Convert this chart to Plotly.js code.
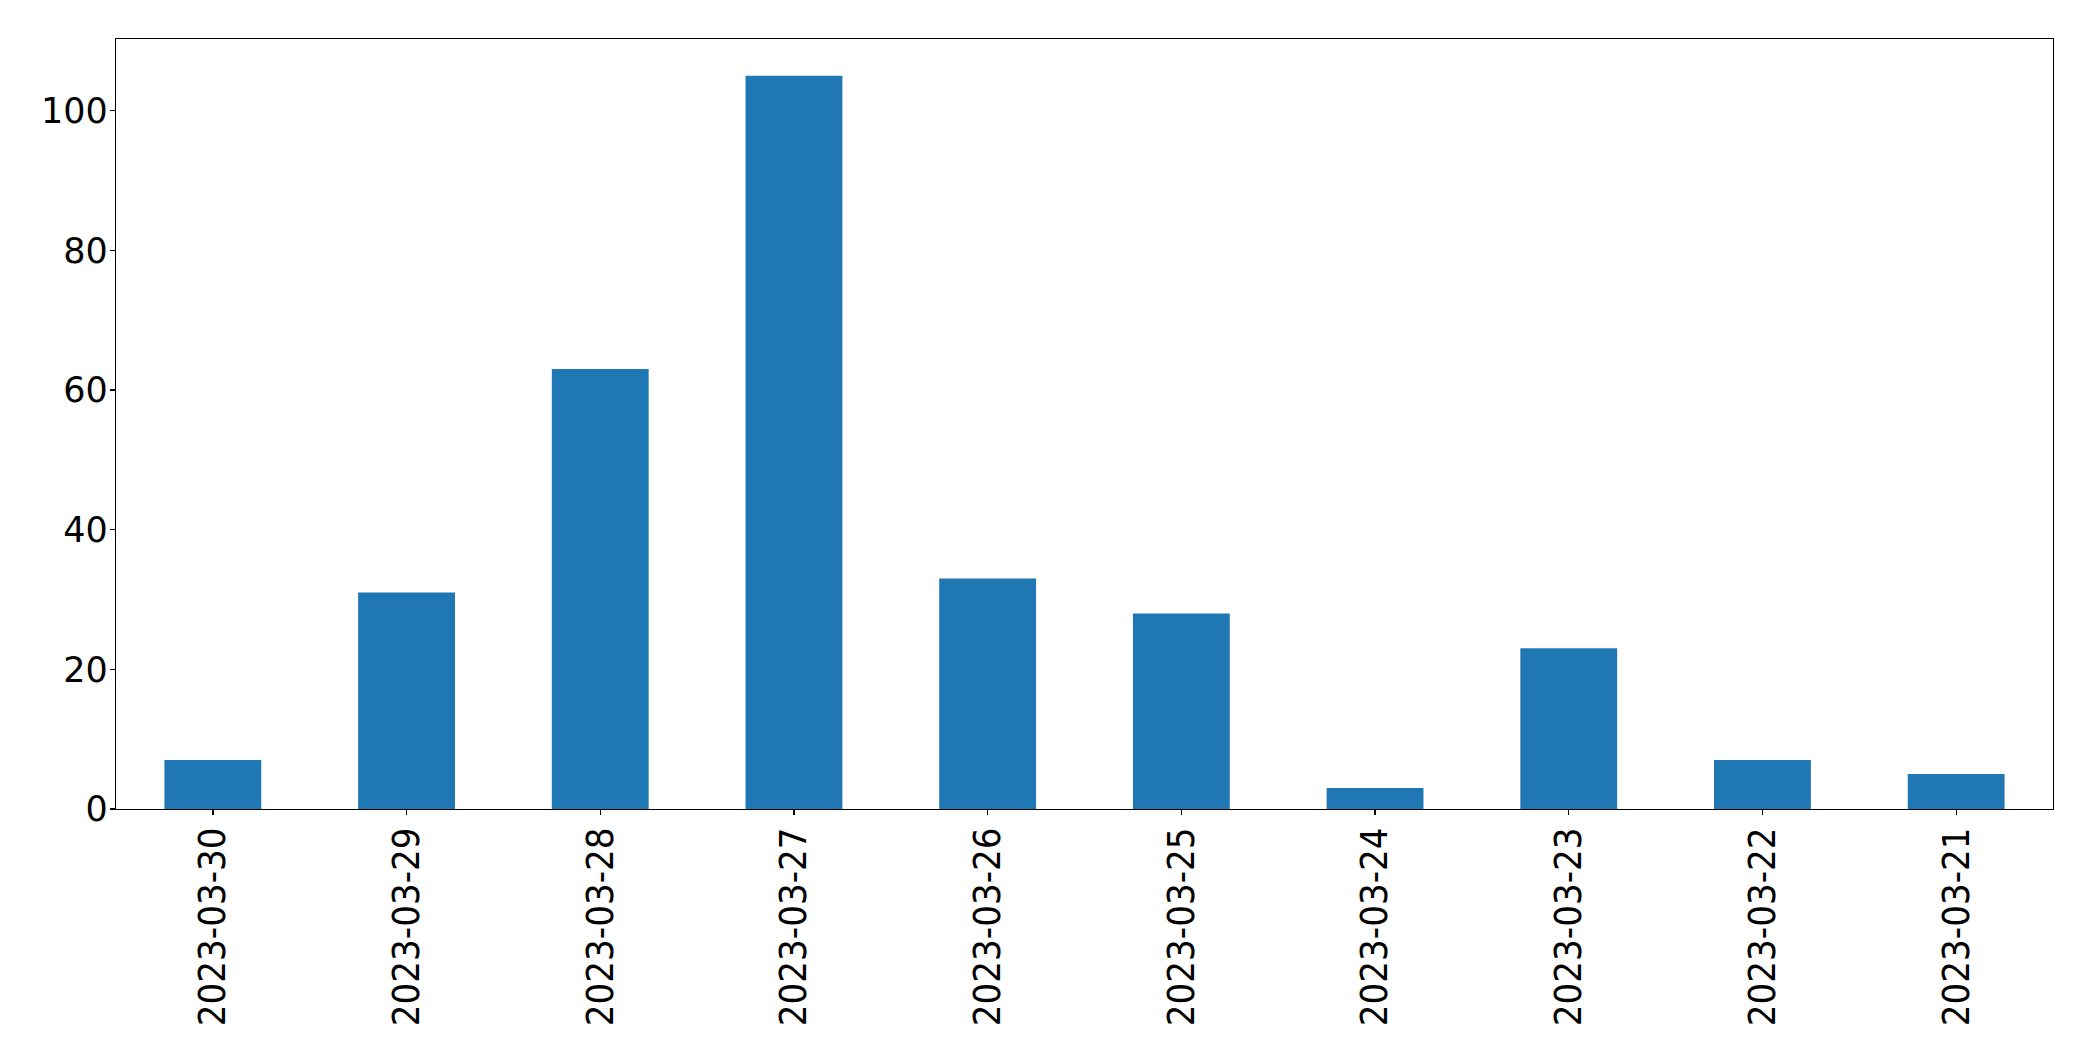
<!DOCTYPE html>
<html>
<head>
<meta charset="utf-8">
<script src="https://cdn.plot.ly/plotly-3.0.1.min.js"></script>
<style>html,body{margin:0;padding:0;background:#fff;}#chart{width:2093px;height:1061px;}</style>
</head>
<body>
<div id="chart"></div>
<script>
const dates = ["2023-03-30","2023-03-29","2023-03-28","2023-03-27","2023-03-26","2023-03-25","2023-03-24","2023-03-23","2023-03-22","2023-03-21"];
const counts = [7, 31, 63, 105, 33, 28, 3, 23, 7, 5];
const yTicks = [0, 20, 40, 60, 80, 100];

const yFont = {family: "DejaVu Sans, sans-serif", size: 35, color: "#000"};
const xFont = {family: "DejaVu Sans Condensed, DejaVu Sans, sans-serif", size: 38, color: "#000"};

Plotly.newPlot("chart", [{
  type: "bar",
  x: dates,
  y: counts,
  width: 0.5,
  marker: {color: "#1f77b4", line: {width: 0}},
  hoverinfo: "x+y"
}], {
  width: 2093,
  height: 1061,
  margin: {l: 116, r: 40, t: 39, b: 252, pad: 0},
  paper_bgcolor: "#fff",
  plot_bgcolor: "#fff",
  showlegend: false,
  font: yFont,
  xaxis: {
    type: "category",
    range: [-0.5, dates.length - 0.5],
    showgrid: false, zeroline: false,
    showline: true, mirror: true, linecolor: "#000", linewidth: 1.3,
    ticks: "outside", ticklen: 5, tickwidth: 1.3, tickcolor: "#000",
    tickangle: -90,
    tickfont: xFont,
    ticklabelstandoff: -3
  },
  yaxis: {
    range: [0, 110.25],
    tickvals: yTicks,
    showgrid: false, zeroline: false,
    showline: true, mirror: true, linecolor: "#000", linewidth: 1.3,
    ticks: "outside", ticklen: 5, tickwidth: 1.3, tickcolor: "#000",
    tickfont: yFont,
    ticklabelstandoff: -5
  }
}, {displayModeBar: false, staticPlot: true});
</script>
</body>
</html>
